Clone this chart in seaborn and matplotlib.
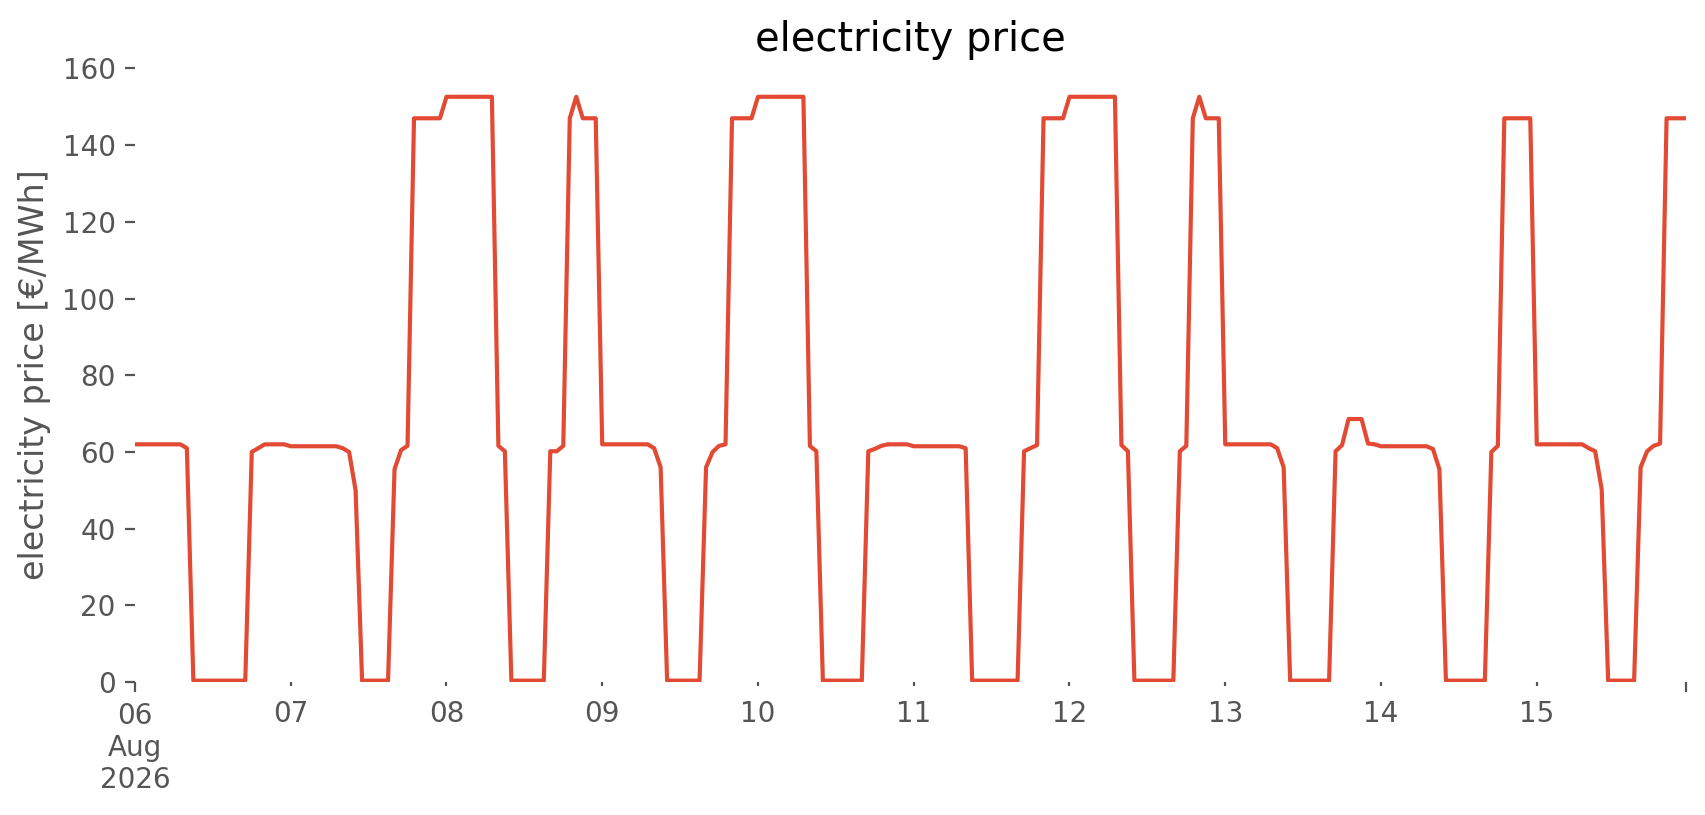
import pandas as pd
import matplotlib
matplotlib.use("Agg")
import matplotlib.pyplot as plt
import matplotlib.dates as mdates
import seaborn as sns

# ─── Data: hourly electricity price [€/MWh], one list per day ───────────────
aug06 = [62, 62, 62, 62, 62, 62, 62, 62, 61, 0.4, 0.4, 0.4, 0.4, 0.4, 0.4, 0.4,
         0.4, 0.4, 60, 61, 62, 62, 62, 62]
aug07 = [61.5, 61.5, 61.5, 61.5, 61.5, 61.5, 61.5, 61.5, 61, 60, 50, 0.4, 0.4, 0.4,
         0.4, 0.4, 55.5, 60.5, 61.6, 147, 147, 147, 147, 147]
aug08 = [152.6, 152.6, 152.6, 152.6, 152.6, 152.6, 152.6, 152.6, 61.6, 60.2, 0.4, 0.4,
         0.4, 0.4, 0.4, 0.4, 60.2, 60.2, 61.6, 147, 152.6, 147, 147, 147]
aug09 = [62, 62, 62, 62, 62, 62, 62, 62, 61, 56, 0.4, 0.4, 0.4, 0.4, 0.4, 0.4,
         56, 60, 61.6, 62, 147, 147, 147, 147]
aug10 = [152.6, 152.6, 152.6, 152.6, 152.6, 152.6, 152.6, 152.6, 61.6, 60.2, 0.4, 0.4,
         0.4, 0.4, 0.4, 0.4, 0.4, 60.2, 60.8, 61.6, 62, 62, 62, 62]
aug11 = [61.5, 61.5, 61.5, 61.5, 61.5, 61.5, 61.5, 61.5, 61, 0.4, 0.4, 0.4, 0.4, 0.4,
         0.4, 0.4, 0.4, 60.2, 61, 61.8, 147, 147, 147, 147]
aug12 = [152.6, 152.6, 152.6, 152.6, 152.6, 152.6, 152.6, 152.6, 61.8, 60.2, 0.4, 0.4,
         0.4, 0.4, 0.4, 0.4, 0.4, 60.2, 61.6, 147, 152.6, 147, 147, 147]
aug13 = [62, 62, 62, 62, 62, 62, 62, 62, 61, 56, 0.4, 0.4, 0.4, 0.4, 0.4, 0.4,
         0.4, 60.2, 61.8, 68.6, 68.6, 68.6, 62.2, 62]
aug14 = [61.5, 61.5, 61.5, 61.5, 61.5, 61.5, 61.5, 61.5, 60.8, 55.5, 0.4, 0.4, 0.4, 0.4,
         0.4, 0.4, 0.4, 60, 61.6, 147, 147, 147, 147, 147]
aug15 = [62, 62, 62, 62, 62, 62, 62, 62, 61, 60.2, 50.3, 0.4, 0.4, 0.4, 0.4, 0.4,
         56, 60.2, 61.6, 62.2, 147, 147, 147, 147]

price = aug06 + aug07 + aug08 + aug09 + aug10 + aug11 + aug12 + aug13 + aug14 + aug15
timestamps = pd.date_range("2026-08-06 00:00", periods=len(price), freq="h")

day_ticks = pd.date_range("2026-08-07", "2026-08-15", freq="D")
day_labels = ["07", "08", "09", "10", "11", "12", "13", "14", "15"]
first_label = "06\nAug\n2026"

df = pd.DataFrame({"time": timestamps, "price": price})

# ─── Style ──────────────────────────────────────────────────────────────────
sns.set_theme(style="white")
plt.rcParams.update({
    "font.family": ["DejaVu Sans"],
    "axes.facecolor": "white",
    "figure.facecolor": "white",
    "axes.labelcolor": "#555555",
    "xtick.color": "#555555",
    "ytick.color": "#555555",
})

LINE_COLOR = "#E24A33"

fig = plt.figure(figsize=(8.53, 4.075), dpi=200)
ax = fig.add_axes([0.0791, 0.163, 0.9092, 0.754])

sns.lineplot(data=df, x="time", y="price", ax=ax, color=LINE_COLOR, linewidth=1.5)

ax.set_xlim(mdates.date2num(timestamps[0]), mdates.date2num(timestamps[-1]))
ax.set_ylim(0, 160.2)
ax.set_yticks([0, 20, 40, 60, 80, 100, 120, 140, 160])

ax.set_xticks([mdates.date2num(timestamps[0]), mdates.date2num(timestamps[-1])],
              labels=[first_label, ""])
ax.set_xticks(mdates.date2num(day_ticks), labels=day_labels, minor=True)

ax.tick_params(axis="both", which="major", length=3.5, width=0.8, labelsize=10,
               labelcolor="#555555", left=True, bottom=True, pad=3.5)
ax.tick_params(axis="x", which="minor", length=1.3, width=0.8, labelsize=10,
               labelcolor="#555555", bottom=True, pad=5.0)

for side in ["top", "right", "left", "bottom"]:
    ax.spines[side].set_visible(False)
ax.grid(False)

ax.set_title("electricity price", fontsize=14.4, color="black")
ax.set_xlabel("")
ax.set_ylabel("electricity price [€/MWh]", fontsize=12, color="#555555")

fig.savefig("out.png", dpi=200, facecolor="white")
